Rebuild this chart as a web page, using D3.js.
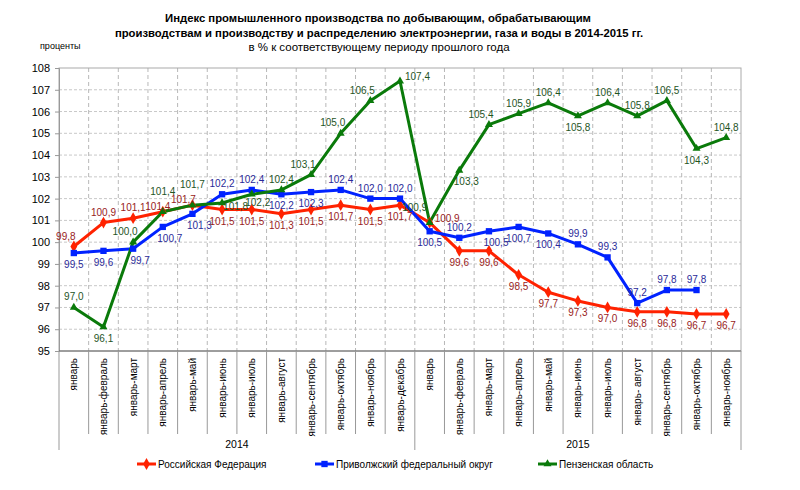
<!DOCTYPE html>
<html><head><meta charset="utf-8">
<script src="https://cdn.jsdelivr.net/npm/d3@7"></script>
<style>body{margin:0;background:#fff}svg{display:block;font-family:"Liberation Sans",Arial,sans-serif}</style>
</head><body>
<script>
const months = ["январь","январь-февраль","январь-март","январь-апрель","январь-май","январь-июнь","январь-июль","январь-август","январь-сентябрь","январь-октябрь","январь-ноябрь","январь-декабрь",
"январь","январь-февраль","январь-март","январь-апрель","январь-май","январь-июнь","январь-июль","январь- август","январь-сентябрь","январь-октябрь","январь-ноябрь"];
const years = ["2014","2015"];
const yearCounts = [12, 11];
const rf = [99.8,100.9,101.1,101.4,101.7,101.5,101.5,101.3,101.5,101.7,101.5,101.7,100.9,99.6,99.6,98.5,97.7,97.3,97.0,96.8,96.8,96.7,96.7];
const pfo = [99.5,99.6,99.7,100.7,101.3,102.2,102.4,102.2,102.3,102.4,102.0,102.0,100.5,100.2,100.5,100.7,100.4,99.9,99.3,97.2,97.8,97.8,null];
const penza = [97.0,96.1,100.0,101.4,101.7,101.8,102.2,102.4,103.1,105.0,106.5,107.4,100.9,103.3,105.4,105.9,106.4,105.8,106.4,105.8,106.5,104.3,104.8];
const seriesNames = ["Российская Федерация","Приволжский  федеральный округ","Пензенская область"];
const yTicks = [95,96,97,98,99,100,101,102,103,104,105,106,107,108];
// label placement codes (layout only)
const rfPos = ["tl","t","t","l1","l2","b","b","b","b","b","b","b","tr","b","b","b","b","b","b","b","b","b","b"];
const pfoPos = ["b","b","br","br","br","t","t","b","b","t","t","t","b","t","br","b","b","t","t","t","t","t",""];
const penzaPos = ["t","b","tl","tt","tt","r","br2","t","tl","tl","tl","tr","tl2","br","tl","t","t","b","t","t","t","b","t"];

const W=800,H=490;
const svg=d3.select("body").append("svg").attr("width",W).attr("height",H);
const m={l:59,r:741,t:68,b:351};
const x=d3.scaleBand().domain(d3.range(months.length)).range([m.l,m.r]).padding(0);
const y=d3.scaleLinear().domain([95,108]).range([m.b,m.t]);
const cx=i=>x(i)+x.bandwidth()/2;

// title
const title=svg.append("g").attr("text-anchor","middle");
title.append("text").attr("x",378).attr("y",22).attr("font-size",11.3).attr("font-weight","bold").text("Индекс промышленного производства по добывающим, обрабатывающим");
title.append("text").attr("x",379).attr("y",37).attr("font-size",11.3).attr("font-weight","bold").text("производствам и производству  и распределению электроэнергии, газа и воды в 2014-2015 гг.");
title.append("text").attr("x",379).attr("y",51).attr("font-size",11.5).text("в % к соответствующему периоду прошлого года");
svg.append("text").attr("x",40).attr("y",49).attr("font-size",9).text("проценты");

// grid
svg.append("g").selectAll("line").data(yTicks.slice(1,-1)).join("line")
 .attr("x1",m.l).attr("x2",m.r).attr("y1",d=>y(d)).attr("y2",d=>y(d))
 .attr("stroke","#c8c8c8").attr("stroke-dasharray","3,2");
svg.append("g").selectAll("line").data(d3.range(1,months.length)).join("line")
 .attr("x1",i=>x(i)).attr("x2",i=>x(i)).attr("y1",m.t).attr("y2",m.b)
 .attr("stroke","#b8b8b8").attr("stroke-dasharray","4,3");
// frame
svg.append("rect").attr("x",m.l).attr("y",m.t).attr("width",m.r-m.l).attr("height",m.b-m.t).attr("fill","none").attr("stroke","#aaa");

// y axis
const ya=svg.append("g").attr("transform",`translate(${m.l},0)`).call(d3.axisLeft(y).tickValues(yTicks).tickFormat(d3.format("d")).tickSize(4).tickPadding(5));
ya.select(".domain").attr("stroke","#999");
ya.selectAll(".tick line").attr("stroke","#999");
ya.selectAll("text").attr("font-size",11).attr("fill","#000").attr("font-family","Liberation Sans, Arial");
// x axis
svg.append("line").attr("x1",m.l).attr("x2",m.r).attr("y1",m.b).attr("y2",m.b).attr("stroke","#666");
svg.append("line").attr("x1",m.l).attr("x2",m.l).attr("y1",m.b).attr("y2",450).attr("stroke","#999");
svg.append("line").attr("x1",m.r).attr("x2",m.r).attr("y1",m.b).attr("y2",450).attr("stroke","#999");
const seps=d3.range(1,months.length);
svg.append("g").selectAll("line").data(seps).join("line")
 .attr("x1",i=>x(i)).attr("x2",i=>x(i)).attr("y1",m.b).attr("y2",i=>i===yearCounts[0]?450:434)
 .attr("stroke","#999");
svg.append("g").selectAll("text").data(months).join("text")
 .attr("transform",(d,i)=>`translate(${cx(i)+3.5},358) rotate(-90)`)
 .attr("text-anchor","end").attr("font-size",10).text(d=>d);
let start=0;
years.forEach((yr,k)=>{
  const c=(x(start)+x(start+yearCounts[k]-1)+x.bandwidth())/2;
  svg.append("text").attr("x",c).attr("y",448).attr("text-anchor","middle").attr("font-size",10.5).text(yr);
  start+=yearCounts[k];
});

const fmt=v=>v.toFixed(1).replace(".",",");
function offs(code){
  switch(code){
    case "t": return [0,-7,"middle"];
    case "tt": return [0,-17,"middle"];
    case "tl": return [-8,-7,"middle"];
    case "l1": return [-5,-2,"middle"];
    case "l2": return [-9,-2,"middle"];
    case "tl2": return [-15,-12,"middle"];
    case "tr": return [5,-1,"start"];
    case "b": return [0,15,"middle"];
    case "br": return [7,15,"middle"];
    case "br2": return [6,12,"middle"];
    case "r": return [1,7,"start"];
    case "l": return [-4,4,"end"];
  }
  return [0,0,"middle"];
}
const series=[
 {vals:rf,pos:rfPos,color:"#ff2200",lab:"#992222",mk:d3.symbolDiamond,ms:40},
 {vals:pfo,pos:pfoPos,color:"#0022ff",lab:"#2a2a99",mk:d3.symbolSquare,ms:40},
 {vals:penza,pos:penzaPos,color:"#0a7a0a",lab:"#1f551f",mk:d3.symbolTriangle,ms:28}
];
const line=d3.line().defined(d=>d!=null).x((d,i)=>cx(i)).y(d=>y(d));
series.forEach(s=>{
  svg.append("path").datum(s.vals).attr("d",line).attr("fill","none").attr("stroke",s.color).attr("stroke-width",3).attr("stroke-linejoin","round");
});
series.forEach(s=>{
  const pts=s.vals.map((v,i)=>({v,i})).filter(d=>d.v!=null);
  svg.append("g").selectAll("path").data(pts).join("path")
   .attr("d",d3.symbol().type(s.mk).size(s.ms)).attr("transform",d=>`translate(${cx(d.i)},${y(d.v)})`).attr("fill",s.color);
});
series.forEach(s=>{
  const pts=s.vals.map((v,i)=>({v,i})).filter(d=>d.v!=null);
  svg.append("g").selectAll("text").data(pts).join("text")
   .each(function(d){const o=offs(s.pos[d.i]);d3.select(this).attr("x",cx(d.i)+o[0]).attr("y",y(d.v)+o[1]).attr("text-anchor",o[2]);})
   .attr("font-size",10).attr("fill",s.lab).text(d=>fmt(d.v));
});

// legend
const lx=[137,315,538];
series.forEach((s,k)=>{
  const g=svg.append("g").attr("transform",`translate(${lx[k]},464)`);
  g.append("line").attr("x1",0).attr("x2",19).attr("stroke",s.color).attr("stroke-width",3);
  g.append("path").attr("d",d3.symbol().type(s.mk).size(s.ms)).attr("transform","translate(9.5,0)").attr("fill",s.color);
  g.append("text").attr("x",21).attr("y",4).attr("font-size",10).text(seriesNames[k]);
});
</script>
</body></html>
